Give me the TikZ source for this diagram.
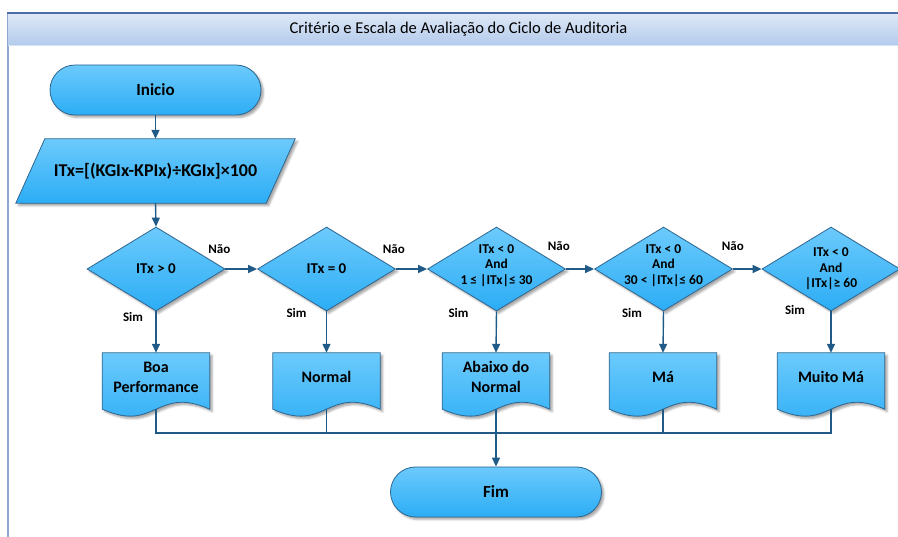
\documentclass[tikz,border=0pt]{standalone}
\usepackage{fontspec}
\setmainfont{Carlito}
\usetikzlibrary{arrows.meta,shapes.geometric,shadows.blur,calc,backgrounds}

\definecolor{fillTop}{HTML}{6CCAFC}
\definecolor{fillBot}{HTML}{2CADF5}
\definecolor{edge}{HTML}{2E6690}
\definecolor{wire}{HTML}{1F5B86}
\definecolor{bandTop}{HTML}{DFE8F6}
\definecolor{bandBot}{HTML}{B3CBEC}
\definecolor{bandLine}{HTML}{4A6DA6}
\definecolor{bandEdge}{HTML}{D6E3F5}
\definecolor{frameSide}{HTML}{8EA8D2}

\newcommand\setfs[2]{\fontsize{#1}{#2}\selectfont}

\tikzset{
  shaded/.style={top color=fillTop, bottom color=fillBot, draw=edge, line width=0.8pt,
    blur shadow={shadow xshift=2.5pt, shadow yshift=-2.5pt, shadow blur radius=2pt, shadow opacity=35}},
  terminal/.style={shaded, rectangle, rounded corners=25pt, minimum width=211pt,
    minimum height=50pt, font=\bfseries\setfs{17}{20}},
  formulabox/.style={rectangle, minimum width=250pt, minimum height=64pt, inner sep=0pt,
    font=\bfseries\setfs{18}{21}},
  decision/.style={shaded, diamond, minimum width=138pt, minimum height=84pt, inner sep=0pt},
  dbig/.style={font=\bfseries\setfs{15}{18}, inner sep=0pt},
  dsmall/.style={font=\bfseries\setfs{13.5}{15.5}, align=center, inner sep=0pt},
  docbox/.style={rectangle, minimum width=107pt, minimum height=48pt, inner sep=0pt,
    align=center, font=\bfseries\setfs{16}{20}},
  tag/.style={font=\bfseries\setfs{13}{15}, inner sep=0pt},
  wire/.style={draw=wire, line width=1.4pt},
  arr/.style={wire, -{Triangle[length=9pt,width=8pt]}},
}

% bottom edge of a document symbol: a wave hanging 8pt below the node
\newcommand\wavedoc[1]{%
  \path[shaded] (#1.north west) -- (#1.north east) -- ($(#1.south east)+(0,8)$)
    .. controls ($(#1.south)+(0,-16)$) and ($(#1.south)+(0,32)$) .. ($(#1.south west)+(0,8)$)
    -- cycle;}

\begin{document}
\begin{tikzpicture}[x=1pt, y=-1pt]
\useasboundingbox (0,0) rectangle (898,537);

% title bar text
\node[font=\setfs{16.5}{19}, inner sep=0pt] (hdr) at (458.5,29.5)
  {Critério e Escala de Avaliação do Ciclo de Auditoria};

% start, formula
\node[terminal] (ini) at (155.5,90) {Inicio};
\node[formulabox] (formula) at (155.5,171) {ITx=[(KGIx-KPIx)÷KGIx]×100};

% decisions
\node[decision] (d1) at (156,269) {};
\node[decision] (d2) at (326.5,269) {};
\node[decision] (d3) at (496.5,269) {};
\node[decision] (d4) at (663.5,269) {};
\node[decision] (d5) at (831,269) {};

\node[dbig] (d1t) at (156,269) {ITx > 0};
\node[dbig] (d2t) at (326.5,269) {ITx = 0};
\node[dsmall] (d3t) at (496.5,265.5) {ITx < 0\\And\\1 ≤ |ITx|≤ 30};
\node[dsmall] (d4t) at (663.5,265.5) {ITx < 0\\And\\30 < |ITx|≤ 60};
\node[dsmall] (d5t) at (831,269) {ITx < 0\\And\\|ITx|≥ 60};

% outcomes
\node[docbox] (b1) at (156,377) {Boa\\Performance};
\node[docbox] (b2) at (326.5,377) {Normal};
\node[docbox] (b3) at (496,377) {Abaixo do\\Normal};
\node[docbox] (b4) at (663,377) {Má};
\node[docbox] (b5) at (831,377) {Muito Má};

\node[terminal] (fim) at (496,492) {Fim};

\begin{pgfonlayer}{background}
  \fill[frameSide] (7,13) rectangle (9,537);
  \shade[top color=bandTop, bottom color=bandBot] (8,13) rectangle (898,45);
  \draw[bandEdge, line width=1pt] (8,45.5) -- (898,45.5);
  \draw[bandLine, line width=1.2pt] (7,13) -- (898,13);
  \path[shaded] ($(formula.north west)+(14.5,0)$) -- ($(formula.north east)+(14.5,0)$)
    -- ($(formula.south east)+(-14.5,0)$) -- ($(formula.south west)+(-14.5,0)$) -- cycle;
  \wavedoc{b1}\wavedoc{b2}\wavedoc{b3}\wavedoc{b4}\wavedoc{b5}
\end{pgfonlayer}

% connector ends below the documents and the collecting line
\foreach \i in {1,...,5} {\coordinate (b\i o) at ($(b\i.south)+(0,8)$);}
\coordinate (bus) at (0,433);

% flow
\draw[arr] (ini.south) -- (formula.north);
\draw[arr] (formula.south) -- (d1.north);
\draw[arr] (d1.east) -- (d2.west);
\draw[arr] (d2.east) -- (d3.west);
\draw[arr] (d3.east) -- (d4.west);
\draw[arr] (d4.east) -- (d5.west);
\foreach \i in {1,...,5} {\draw[arr] (d\i.south) -- (b\i.north);}

\draw[wire] (b1o) -- (b1o |- bus) -- (b5o |- bus) -- (b5o);
\draw[wire] (b2o) -- (b2o |- bus);
\draw[wire] (b4o) -- (b4o |- bus);
\draw[arr] (b3o) -- (b3o |- fim.north);

% branch labels
\node[tag] (n1) at ($(d1.east)+(-6,-20)$) {Não};
\node[tag] (n2) at ($(d2.east)+(-2,-20)$) {Não};
\node[tag] (n3) at ($(d3.east)+(-7,-23)$) {Não};
\node[tag] (n4) at ($(d4.east)+(0,-23)$) {Não};
\node[tag] (s1) at ($(d1.south)+(-23,6)$) {Sim};
\node[tag] (s2) at ($(d2.south)+(-30,2)$) {Sim};
\node[tag] (s3) at ($(d3.south)+(-38,2)$) {Sim};
\node[tag] (s4) at ($(d4.south)+(-31.5,2)$) {Sim};
\node[tag] (s5) at ($(d5.south)+(-36,-1)$) {Sim};
\end{tikzpicture}
\end{document}
